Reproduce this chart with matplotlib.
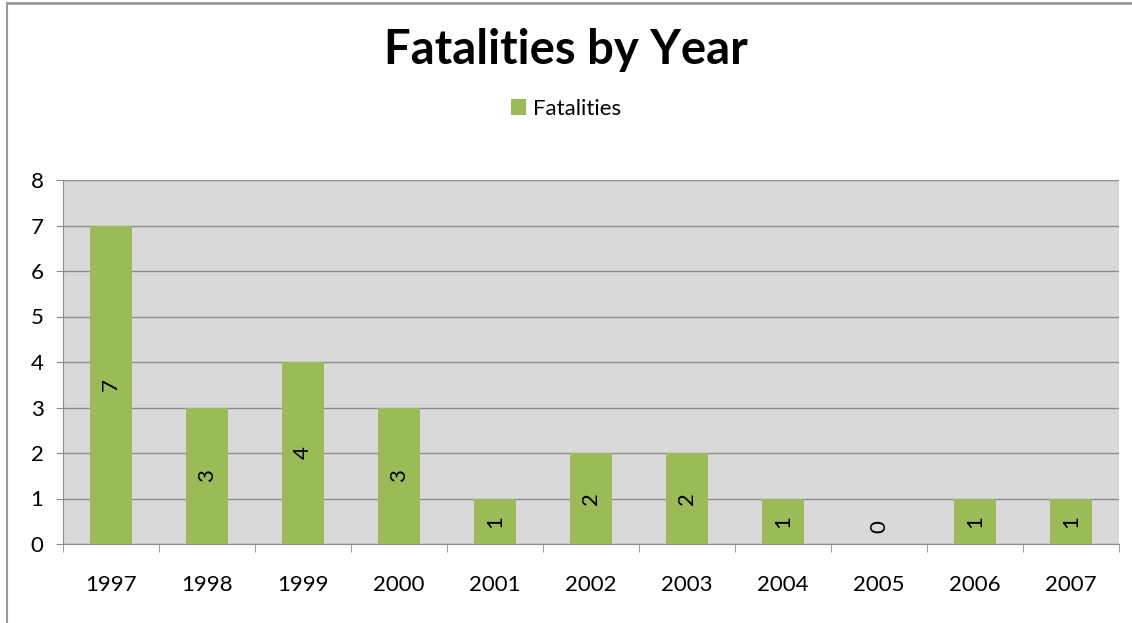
import matplotlib
matplotlib.use("Agg")
import matplotlib.pyplot as plt
from matplotlib.lines import Line2D

years = ["1997", "1998", "1999", "2000", "2001", "2002", "2003", "2004", "2005", "2006", "2007"]
fatalities = [7, 3, 4, 3, 1, 2, 2, 1, 0, 1, 1]
yticks = [0, 1, 2, 3, 4, 5, 6, 7, 8]

plt.rcParams['font.family'] = ['Lato', 'DejaVu Sans']

W, H = 1132, 623
fig = plt.figure(figsize=(W / 100, H / 100), dpi=100)
fig.patch.set_facecolor("white")

# outer chart frame
fig.add_artist(Line2D([7 / W, 7 / W], [0, 1 - 2.5 / H], transform=fig.transFigure, color="#9a9a9a", lw=1.5))
fig.add_artist(Line2D([7 / W, 1], [1 - 2.5 / H, 1 - 2.5 / H], transform=fig.transFigure, color="#9a9a9a", lw=2))

left, right, top, bottom = 63, 1119, 180, 544
ax = fig.add_axes([left / W, 1 - bottom / H, (right - left) / W, (bottom - top) / H])
ax.set_facecolor("#d9d9d9")

x = list(range(len(years)))
bars = ax.bar(x, fatalities, width=0.43, color="#9bbb59", zorder=3, label="Fatalities")

ax.set_xlim(-0.5, len(years) - 0.5)
ax.set_ylim(0, 8)
ax.set_yticks(yticks)
ax.set_yticklabels([str(v) for v in yticks], fontsize=16)
ax.set_xticks(x)
ax.set_xticklabels(years, fontsize=16)
ax.yaxis.grid(True, color="#8c8c8c", lw=1, zorder=1)
ax.set_axisbelow(True)

for s in ["top", "right"]:
    ax.spines[s].set_visible(False)
ax.spines["left"].set_color("#8c8c8c")
ax.spines["bottom"].set_color("#8c8c8c")
ax.tick_params(axis="y", length=5, color="#8c8c8c", pad=9)
ax.tick_params(axis="x", length=0, pad=22)
# minor ticks between categories
ax.set_xticks([i - 0.5 for i in range(len(years) + 1)], minor=True)
ax.tick_params(axis="x", which="minor", length=6, color="#8c8c8c")

for xi, v in zip(x, fatalities):
    ypos = v / 2 if v > 0 else 0.38
    ax.text(xi, ypos, str(v), rotation=90, ha="center", va="center", fontsize=16, zorder=4)

fig.text(0.5, 1 - 50 / H, "Fatalities by Year", ha="center", va="center",
         fontsize=34, fontweight="bold")
fig.legend(handles=[bars], labels=["Fatalities"], loc="center", bbox_to_anchor=(0.5, 1 - 109 / H),
           frameon=False, fontsize=16, handlelength=0.7, handleheight=0.7, handletextpad=0.3)

fig.savefig("out.png", dpi=100)
